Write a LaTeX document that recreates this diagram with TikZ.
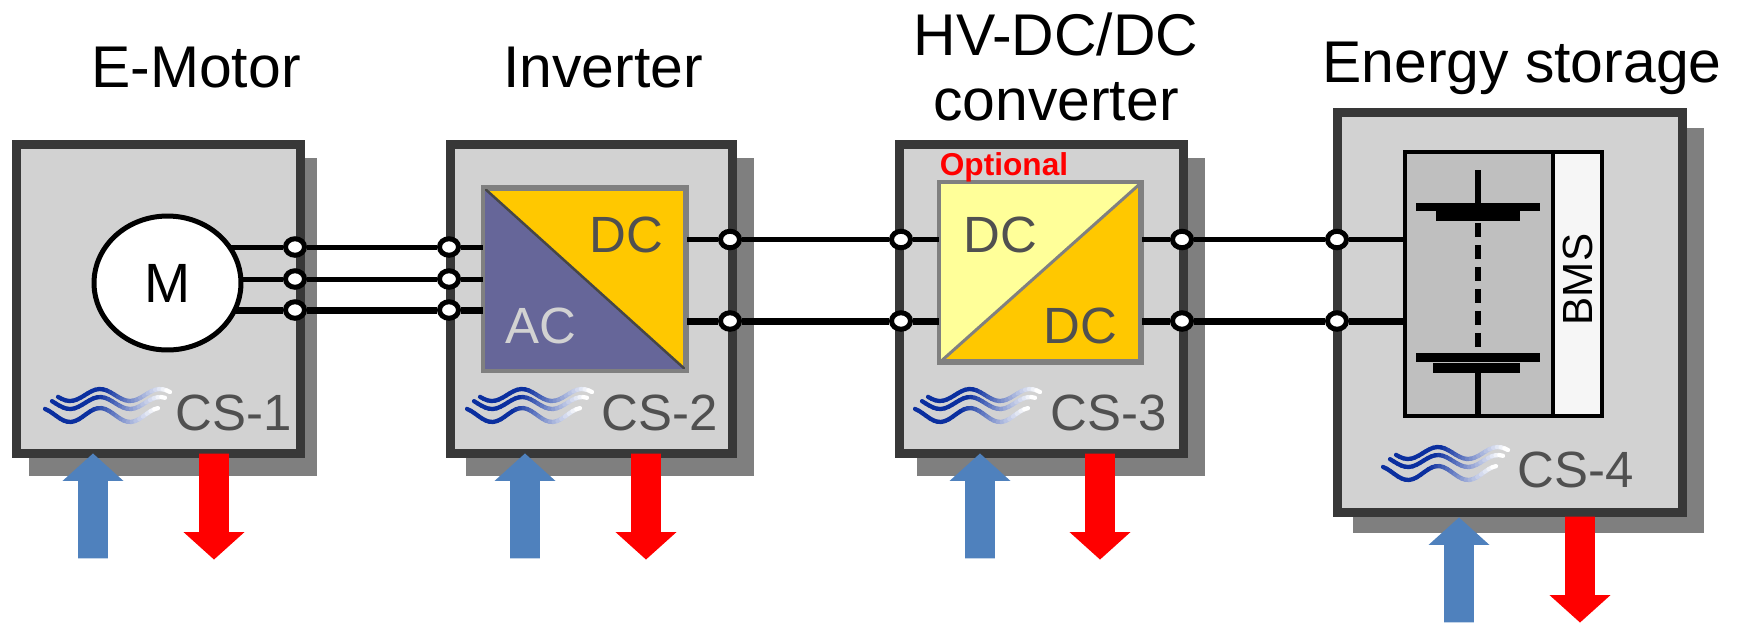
\documentclass[tikz,border=0pt]{standalone}
\usepackage{fontspec}
\setmainfont{Liberation Sans}
\usetikzlibrary{shapes.arrows,shapes.geometric}
\definecolor{boxgray}{HTML}{D2D2D2}
\definecolor{framegray}{HTML}{383838}
\definecolor{shadowgray}{HTML}{7F7F7F}
\definecolor{labelgray}{HTML}{505050}
\definecolor{convgray}{HTML}{808080}
\definecolor{dcorange}{HTML}{FFC800}
\definecolor{dcyellow}{HTML}{FFFF99}
\definecolor{acpurple}{HTML}{666699}
\definecolor{coolblue}{HTML}{4F81BD}
\definecolor{wavyblue}{HTML}{0B2F9F}
\definecolor{cellgray}{HTML}{BFBFBF}
\definecolor{bmswhite}{HTML}{F6F6F6}
\tikzset{
  x=0.02cm, y=-0.02cm,
  unitbox/.style={draw=framegray, line width=0.18cm, fill=boxgray, rectangle, inner sep=0pt},
  title/.style={font=\fontsize{33.5}{37}\selectfont, align=center, text=black},
  cslabel/.style={font=\fontsize{29}{34}\selectfont, text=labelgray},
  convlabel/.style={font=\fontsize{29}{34}\selectfont},
  convbox/.style={rectangle, draw=convgray, line width=0.08cm, fill=dcorange, inner sep=0pt},
  port/.style={ellipse, draw=black, fill=white, line width=0.1cm, minimum width=0.38cm, minimum height=0.33cm, inner sep=0pt},
  wire/.style={draw=black, line width=0.1cm},
  thickwire/.style={draw=black, line width=0.14cm},
  cellbar/.style={fill=black, draw=none, rectangle, inner sep=0pt},
  coolin/.style={single arrow, anchor=tip, draw=none, fill=coolblue, shape border rotate=90, minimum height=2.1cm, minimum width=1.2cm, single arrow head extend=0.31cm, single arrow tip angle=96, inner sep=0.29cm},
  coolout/.style={single arrow, anchor=tip, draw=none, fill=red, shape border rotate=270, minimum height=2.12cm, minimum width=1.2cm, single arrow head extend=0.31cm, single arrow tip angle=96, inner sep=0.29cm}
}
% three waves, blue on the left and fading to white on the right
\newcommand{\wavymark}[2]{%
  \foreach \cy/\amp/\xa/\xb in {395/6/58/170, 403/6/52/165, 415/7/45/158}{
    \foreach \i in {0,...,29}{
      \pgfmathsetmacro{\ua}{\xa+(\xb-\xa)*\i/30}
      \pgfmathsetmacro{\ub}{\xa+(\xb-\xa)*(\i+1)/30}
      \pgfmathsetmacro{\pct}{min(100,max(0,100*(29-\i)/17))}
      \draw[line width=0.085cm, line cap=round, color=wavyblue!\pct!white]
        ({#1+\ua},{#2+\cy+\amp*sin(6*(\ua-55))}) -- ({#1+\ub},{#2+\cy+\amp*sin(6*(\ub-55))});
    }
  }
}
\begin{document}
\begin{tikzpicture}
\useasboundingbox (0,0) rectangle (1740,623);
% shadows
\fill[shadowgray] (29,158) rectangle (317,476);
\fill[shadowgray] (466,158) rectangle (754,476);
\fill[shadowgray] (917,158) rectangle (1205,476);
\fill[shadowgray] (1353,128) rectangle (1704,533);
% units
\node[unitbox, minimum width=5.68cm, minimum height=6.18cm] (motorbox) at (158.5,299) {};
\node[unitbox, minimum width=5.64cm, minimum height=6.18cm] (inverterbox) at (591.5,299) {};
\node[unitbox, minimum width=5.68cm, minimum height=6.18cm] (dcdcbox) at (1041.5,299) {};
\node[unitbox, minimum width=6.9cm, minimum height=8cm] (storagebox) at (1510,312.5) {};
% titles
\node[title] (motortitle) at (196,68) {E-Motor};
\node[title] (invertertitle) at (603,68) {Inverter};
\node[title] (dcdctitle) at (1056,67) {HV-DC/DC\\converter};
\node[title] (storagetitle) at (1522,68) {Energy storage};
% inverter
\node[convbox, minimum width=4cm, minimum height=3.6cm] (inverter) at (585,279) {};
\fill[acpurple] (inverter.north west) -- (inverter.south east) -- (inverter.south west) -- cycle;
\draw[framegray!80!convgray, line width=0.05cm] (inverter.north west) -- (inverter.south east);
\draw[convgray, line width=0.08cm] (inverter.north west) rectangle (inverter.south east);
\node[convlabel, text=labelgray] (invdc) at (626.5,235) {DC};
\node[convlabel, text=boxgray] (invac) at (541,325.5) {AC};
% dcdc
\node[convbox, minimum width=3.98cm, minimum height=3.54cm] (dcdc) at (1040.5,272.5) {};
\fill[dcyellow] (dcdc.north west) -- (dcdc.north east) -- (dcdc.south west) -- cycle;
\draw[convgray, line width=0.06cm] (dcdc.south west) -- (dcdc.north east);
\draw[convgray, line width=0.08cm] (dcdc.north west) rectangle (dcdc.south east);
\node[convlabel, text=labelgray] (dcleft) at (1000,235) {DC};
\node[convlabel, text=labelgray] (dcright) at (1080,325.5) {DC};
\node[font=\bfseries\fontsize{18}{21}\selectfont, text=red] (optional) at (1004,167) {Optional};
% battery
\node[rectangle, draw=black, line width=0.09cm, fill=cellgray, minimum width=2.96cm, minimum height=5.28cm, inner sep=0pt] (battery) at (1479,284) {};
\node[rectangle, draw=black, line width=0.09cm, fill=bmswhite, minimum width=0.98cm, minimum height=5.28cm, inner sep=0pt] (bms) at (1577.5,284) {};
\node[rotate=90, font=\fontsize{24}{28}\selectfont] (bmstext) at (1578,279.5) {BMS};
\node[cellbar, minimum width=2.48cm, minimum height=0.16cm] (plateA) at (1478,207) {};
\node[cellbar, minimum width=1.68cm, minimum height=0.2cm] (plateB) at (1478,216) {};
\node[cellbar, minimum width=2.48cm, minimum height=0.18cm] (plateC) at (1478,357.5) {};
\node[cellbar, minimum width=1.74cm, minimum height=0.2cm] (plateD) at (1476.5,368) {};
\coordinate (celltop) at (1478,170);
\coordinate (cellbottom) at (1478,416);
\coordinate (dashtop) at (1478,223);
\coordinate (dashbottom) at (1478,347);
\draw[line width=0.13cm] (celltop) -- (plateA);
\draw[line width=0.13cm] (plateD.south -| cellbottom) -- (cellbottom);
\draw[line width=0.13cm, dash pattern=on 0.28cm off 0.16cm] (dashtop) -- (dashbottom);
% ports
\foreach \name/\px/\py in {ma/295/247, mb/295/279, mc/295/310, ia/449/247, ib/449/279, ic/449/310,
  ra/730/239.5, rb/730/321, da/901/239.5, db/901/321, ea/1182/239.5, eb/1182/321, sa/1337/239.5, sb/1337/321}{
  \node[port] (\name) at (\px,\py) {};
}
% wires
\coordinate (motorcentre) at (167.5,283);
\draw[wire] (ma) -- (ia);
\draw[wire] (mb) -- (ib);
\draw[thickwire] (mc) -- (ic);
\draw[wire] (ra) -- (da);
\draw[thickwire] (rb) -- (db);
\draw[wire] (ea) -- (sa);
\draw[thickwire] (eb) -- (sb);
\draw[wire] (ma) -- (motorcentre |- ma);
\draw[wire] (mb) -- (motorcentre |- mb);
\draw[thickwire] (mc) -- (motorcentre |- mc);
\draw[wire] (ia) -- (inverter.west |- ia);
\draw[wire] (ib) -- (inverter.west |- ib);
\draw[thickwire] (ic) -- (inverter.west |- ic);
\draw[wire] (ra) -- (inverter.east |- ra);
\draw[thickwire] (rb) -- (inverter.east |- rb);
\draw[wire] (da) -- (dcdc.west |- da);
\draw[thickwire] (db) -- (dcdc.west |- db);
\draw[wire] (ea) -- (dcdc.east |- ea);
\draw[thickwire] (eb) -- (dcdc.east |- eb);
\draw[wire] (sa) -- (battery.west |- sa);
\draw[thickwire] (sb) -- (battery.west |- sb);
% motor
\node[ellipse, draw=black, fill=white, line width=0.1cm, minimum width=2.94cm, minimum height=2.68cm, inner sep=0pt, font=\fontsize{31.5}{36}\selectfont] (motor) at (motorcentre) {M};
% cooling marks
\wavymark{0}{0}
\wavymark{422}{0}
\wavymark{870}{0}
\wavymark{1338}{58}
\node[cslabel] (csa) at (233.5,413) {CS-1};
\node[cslabel] (csb) at (660,413) {CS-2};
\node[cslabel] (csc) at (1109,413) {CS-3};
\node[cslabel] (csd) at (1576,470) {CS-4};
% coolant arrows
\node[coolin] (ina) at (93,453) {};
\node[coolout] (outa) at (214,560) {};
\node[coolin] (inb) at (525,453) {};
\node[coolout] (outb) at (646,560) {};
\node[coolin] (inc) at (980,453) {};
\node[coolout] (outc) at (1100,560) {};
\node[coolin] (ind) at (1459,517) {};
\node[coolout] (outd) at (1580,623) {};
\end{tikzpicture}
\end{document}
